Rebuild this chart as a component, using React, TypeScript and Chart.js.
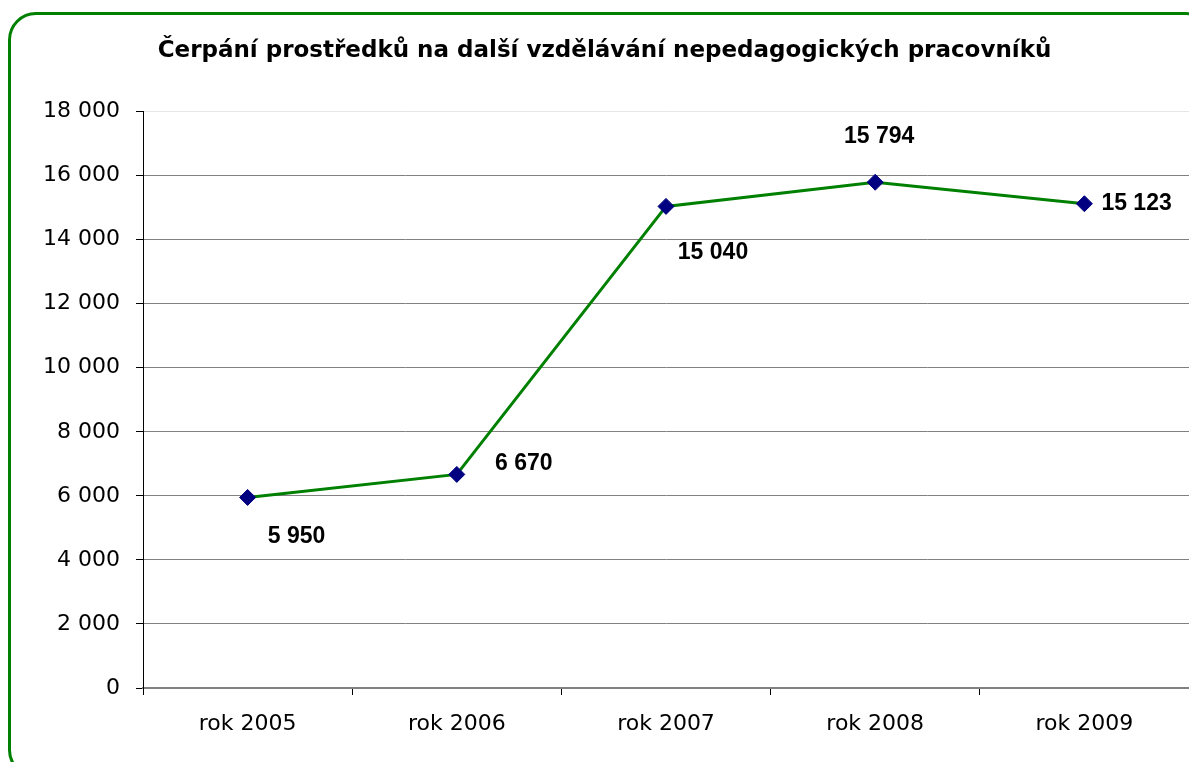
import React, { useEffect, useRef } from "react";
import { Chart, registerables } from "chart.js";

Chart.register(...registerables);

const categories = ["rok 2005", "rok 2006", "rok 2007", "rok 2008", "rok 2009"];
const values = [5950, 6670, 15040, 15794, 15123];
const yTicks = [0, 2000, 4000, 6000, 8000, 10000, 12000, 14000, 16000, 18000];
const titleText = "Čerpání prostředků na další vzdělávání nepedagogických pracovníků";

// label offsets (px) relative to each point – styling only
const labelOffsets: [number, number][] = [
  [49, 39],
  [67, -11],
  [47, 46],
  [4, -46],
  [17, 0],
];

const fmt = (n: number) => String(Math.round(n)).replace(/\B(?=(\d{3})+(?!\d))/g, " ");

const FONT = "'Liberation Sans', Arial, sans-serif";
const WIDE = "'DejaVu Sans', sans-serif";

const labelPlugin = {
  id: "pointLabels",
  afterDatasetsDraw(chart: any) {
    const ctx = chart.ctx;
    const meta = chart.getDatasetMeta(0);
    ctx.save();
    ctx.font = `bold 23px ${FONT}`;
    ctx.fillStyle = "#000";
    ctx.textBaseline = "middle";
    meta.data.forEach((pt: any, i: number) => {
      const [dx, dy] = labelOffsets[i];
      const v = chart.data.datasets[0].data[i];
      ctx.textAlign = i === 4 ? "left" : "center";
      ctx.fillText(fmt(v), pt.x + dx, pt.y + dy);
    });
    ctx.restore();
  },
};

export default function App() {
  const ref = useRef<HTMLCanvasElement | null>(null);

  useEffect(() => {
    if (!ref.current) return;
    const chart = new Chart(ref.current, {
      type: "line",
      data: {
        labels: categories,
        datasets: [
          {
            data: values,
            borderColor: "#008000",
            borderWidth: 3,
            pointStyle: "rectRot",
            pointRadius: 8,
            pointBackgroundColor: "#000080",
            pointBorderColor: "#000080",
            pointBorderWidth: 1,
            tension: 0,
          },
        ],
      },
      options: {
        responsive: false,
        animation: false,
        layout: { autoPadding: false, padding: { left: 20, right: 0, top: 0, bottom: 0 } },
        plugins: {
          legend: { display: false },
          tooltip: { enabled: false },
          title: {
            display: true,
            text: titleText,
            color: "#000",
            font: { family: WIDE, size: 23, weight: "bold" },
            padding: { top: 37, bottom: 47 },
          },
        },
        scales: {
          x: {
            offset: true,
            grid: {
              offset: true,
              drawOnChartArea: false,
              drawTicks: true,
              tickLength: 7,
              tickColor: "#000",
            },
            border: { color: "#808080", width: 2 },
            ticks: {
              color: "#000",
              font: { family: WIDE, size: 22 },
              padding: 16,
              maxRotation: 0,
              autoSkip: false,
            },
            afterFit(scale: any) {
              scale.height = 74;
            },
          },
          y: {
            min: 0,
            max: 18000,
            afterBuildTicks(scale: any) {
              scale.ticks = yTicks.map((v) => ({ value: v }));
            },
            grid: {
              color: (c: any) => (c.tick && c.tick.value === 18000 ? "#e6e6e6" : "#808080"),
              lineWidth: 1,
              tickLength: 7,
              tickColor: "#000",
            },
            border: { color: "#000", width: 1 },
            ticks: {
              color: "#000",
              font: { family: WIDE, size: 22 },
              padding: 16,
              callback: (v: any) => fmt(Number(v)),
            },
            afterFit(scale: any) {
              scale.width = 123;
            },
          },
        },
      },
      plugins: [labelPlugin],
    });
    return () => chart.destroy();
  }, []);

  return (
    <div
      style={{
        position: "fixed",
        left: 0,
        top: 0,
        width: 1189,
        height: 762,
        overflow: "hidden",
        background: "#fff",
      }}
    >
      <div
        style={{
          position: "absolute",
          left: 8,
          top: 12,
          width: 1200,
          height: 760,
          border: "3px solid #008000",
          borderRadius: 28,
        }}
      />
      <canvas
        ref={ref}
        width={1189}
        height={762}
        style={{ position: "absolute", left: 0, top: 0, width: 1189, height: 762 }}
      />
    </div>
  );
}
